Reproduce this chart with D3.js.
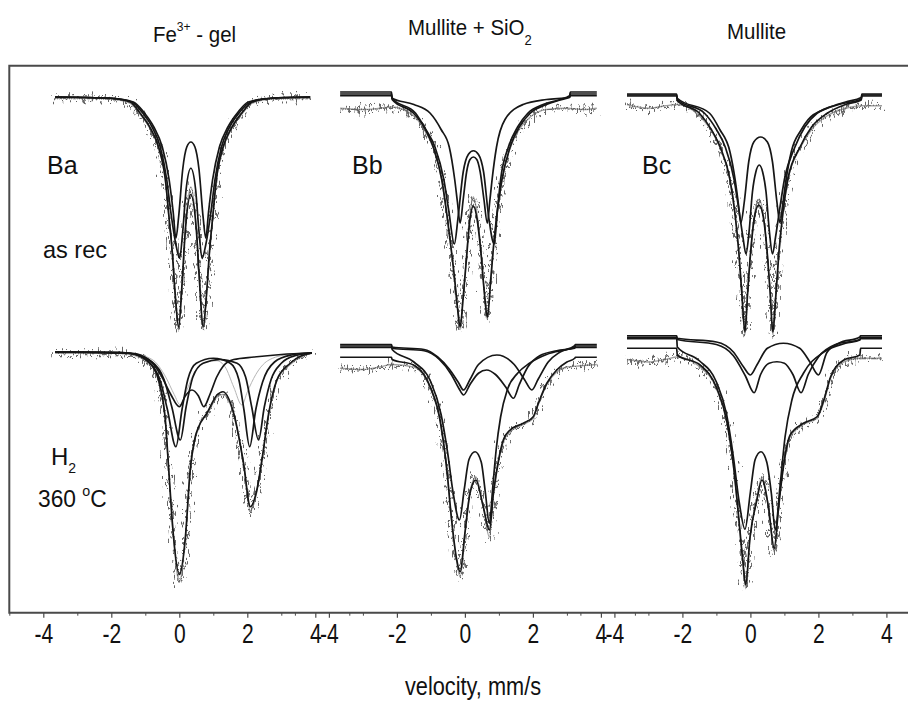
<!DOCTYPE html>
<html>
<head>
<meta charset="utf-8">
<script src="https://cdn.jsdelivr.net/npm/d3@7"></script>
<style>
  body { margin: 0; background: #fff; }
  svg text { font-family: "Liberation Sans", Arial, sans-serif; fill: #111; }
</style>
</head>
<body>
<div id="chart"></div>
<script>
// velocity axis (mm/s), one per column
const velTicks = [-4, -2, 0, 2, 4];
const velMinor = [-5, -3, -1, 1, 3, 5];
const velDomain = [-5, 5];

// absorption in arbitrary units (0 = baseline), [velocity, absorption]
// --- Ba : Fe3+ gel, as received
const baData = [[-3.65,0.05],[-2.5,0.05],[-2.0,0.08],[-1.45,0.25],[-1.15,0.7],[-0.85,1.3],[-0.61,2.05],[-0.41,3.35],[-0.31,4.75],[-0.21,6.2],[-0.12,7.95],[-0.02,9.3],[0.08,7.5],[0.18,5.2],[0.34,3.6],[0.50,5.2],[0.60,7.5],[0.70,9.3],[0.80,7.95],[0.89,6.2],[0.99,4.75],[1.09,3.35],[1.29,2.05],[1.53,1.3],[1.83,0.7],[2.15,0.25],[2.7,0.08],[3.3,0.05],[3.85,0.05]];
const baFit = [[-3.65,0],[-2.0,0.05],[-1.45,0.2],[-1.15,0.65],[-0.85,1.25],[-0.61,2.0],[-0.41,3.3],[-0.31,4.7],[-0.21,6.15],[-0.12,7.9],[-0.02,9.2],[0.08,7.5],[0.18,5.3],[0.34,3.9],[0.50,5.3],[0.60,7.5],[0.70,9.2],[0.80,7.9],[0.89,6.15],[0.99,4.7],[1.09,3.3],[1.29,2.0],[1.53,1.25],[1.83,0.65],[2.15,0.2],[2.7,0.05],[3.85,0]];
const baDoublet1 = [[-3.65,0],[-2.0,0.05],[-1.4,0.2],[-1.1,0.6],[-0.8,1.2],[-0.56,2.0],[-0.37,3.3],[-0.25,4.6],[-0.1,5.9],[0.01,6.45],[0.1,5.4],[0.2,3.7],[0.34,2.85],[0.48,3.7],[0.58,5.4],[0.67,6.45],[0.78,5.9],[0.93,4.6],[1.05,3.3],[1.24,2.0],[1.48,1.2],[1.78,0.6],[2.1,0.2],[2.7,0.05],[3.85,0]];
const baDoublet2 = [[-3.65,0],[-2.0,0.05],[-1.35,0.2],[-1.05,0.6],[-0.75,1.2],[-0.5,2.0],[-0.3,3.3],[-0.18,4.6],[-0.10,5.65],[-0.02,4.8],[0.1,2.9],[0.22,2.0],[0.34,1.8],[0.46,2.0],[0.58,2.9],[0.70,4.8],[0.78,5.65],[0.86,4.6],[0.98,3.3],[1.18,2.0],[1.43,1.2],[1.73,0.6],[2.03,0.2],[2.7,0.05],[3.85,0]];

// --- Bb : mullite + SiO2, as received
const bbData = [[-3.67,0.45],[-3.0,0.5],[-2.5,0.45],[-2.15,0.4],[-1.51,0.75],[-1.2,1.3],[-0.93,2.05],[-0.68,3.35],[-0.53,4.75],[-0.41,6.05],[-0.30,7.35],[-0.22,8.45],[-0.14,9.3],[-0.05,8.0],[0.05,6.3],[0.14,4.8],[0.25,4.0],[0.36,4.7],[0.47,6.1],[0.57,7.8],[0.66,8.9],[0.76,7.35],[0.84,6.05],[0.94,4.75],[1.09,3.35],[1.33,2.05],[1.6,1.3],[1.92,0.8],[2.4,0.5],[3.0,0.45],[3.5,0.5],[3.88,0.45]];
const bbFit = [[-3.67,-0.12],[-2.16,-0.12],[-2.14,0.1],[-1.51,0.65],[-1.2,1.2],[-0.93,2.0],[-0.68,3.3],[-0.53,4.7],[-0.41,6.0],[-0.30,7.3],[-0.22,8.4],[-0.14,9.2],[-0.05,8.0],[0.05,6.4],[0.14,5.0],[0.25,4.36],[0.36,4.9],[0.47,6.2],[0.57,7.8],[0.66,8.8],[0.76,7.3],[0.84,6.0],[0.94,4.7],[1.09,3.3],[1.33,2.0],[1.6,1.2],[1.92,0.65],[2.4,0.3],[2.8,0.12],[3.08,0.0],[3.10,-0.12],[3.88,-0.12]];
const bbDoublet1 = [[-3.67,-0.2],[-2.16,-0.2],[-2.14,0.05],[-1.45,0.65],[-1.15,1.3],[-0.88,2.0],[-0.62,3.3],[-0.48,4.5],[-0.31,5.88],[-0.2,4.8],[-0.05,3.0],[0.1,2.3],[0.25,2.15],[0.4,2.3],[0.55,3.0],[0.7,4.8],[0.86,5.88],[0.96,4.5],[1.05,3.3],[1.28,2.0],[1.55,1.2],[1.85,0.65],[2.3,0.3],[2.8,0.1],[3.08,-0.05],[3.10,-0.2],[3.88,-0.2]];
const bbDoublet2 = [[-3.67,-0.05],[-2.16,-0.05],[-2.14,0.05],[-1.5,0.3],[-1.02,0.65],[-0.7,1.3],[-0.46,2.0],[-0.30,3.3],[-0.22,4.2],[-0.14,5.05],[-0.05,4.1],[0.05,3.0],[0.15,2.5],[0.25,2.4],[0.35,2.5],[0.45,3.0],[0.56,4.1],[0.66,5.05],[0.73,4.2],[0.80,3.3],[0.93,2.0],[1.18,0.9],[1.71,0.3],[2.4,0.1],[3.08,0.02],[3.10,-0.05],[3.88,-0.05]];

// --- Bc : mullite, as received
const bcData = [[-3.63,0.3],[-3.0,0.45],[-2.5,0.35],[-2.15,0.3],[-1.5,0.75],[-1.15,1.35],[-0.89,2.05],[-0.6,3.35],[-0.45,4.75],[-0.34,6.25],[-0.25,7.95],[-0.16,9.5],[-0.08,7.8],[0.02,6.0],[0.12,4.7],[0.25,4.1],[0.38,4.7],[0.48,6.0],[0.58,7.8],[0.66,9.5],[0.75,7.95],[0.84,6.25],[0.95,4.75],[1.1,3.35],[1.46,2.05],[1.8,1.3],[2.26,0.75],[2.8,0.45],[3.3,0.35],[3.87,0.35]];
const bcFit = [[-3.63,-0.04],[-2.17,-0.04],[-2.15,0.15],[-1.5,0.65],[-1.15,1.3],[-0.89,2.0],[-0.6,3.3],[-0.45,4.7],[-0.34,6.2],[-0.25,7.9],[-0.16,9.4],[-0.08,7.8],[0.02,6.0],[0.12,4.8],[0.25,4.32],[0.38,4.8],[0.48,6.0],[0.58,7.8],[0.66,9.4],[0.75,7.9],[0.84,6.2],[0.95,4.7],[1.1,3.3],[1.46,2.0],[1.8,1.2],[2.26,0.65],[2.8,0.3],[3.26,0.12],[3.28,-0.04],[3.87,-0.04]];
const bcDoublet1 = [[-3.63,-0.12],[-2.17,-0.12],[-2.15,0.05],[-1.2,0.65],[-0.9,1.3],[-0.6,2.2],[-0.45,3.3],[-0.36,4.2],[-0.28,5.03],[-0.18,4.2],[-0.05,2.6],[0.1,1.8],[0.30,1.6],[0.5,1.8],[0.65,2.6],[0.78,4.2],[0.87,5.03],[0.96,4.2],[1.05,3.3],[1.2,2.2],[1.5,1.3],[1.7,0.9],[2.26,0.45],[2.8,0.2],[3.26,0.02],[3.28,-0.12],[3.87,-0.12]];
const bcDoublet2 = [[-3.63,-0.08],[-2.17,-0.08],[-2.15,0.1],[-1.35,0.65],[-1.0,1.3],[-0.74,2.0],[-0.48,3.3],[-0.34,4.5],[-0.22,5.6],[-0.13,6.28],[-0.04,5.4],[0.06,3.8],[0.16,3.0],[0.26,2.72],[0.36,3.0],[0.46,3.8],[0.56,5.4],[0.65,6.28],[0.74,5.6],[0.86,4.5],[1.0,3.3],[1.31,2.0],[1.6,1.2],[1.96,0.65],[2.6,0.3],[3.26,0.08],[3.28,-0.08],[3.87,-0.08]];

// --- Ha : Fe3+ gel, H2 360 C
const haData = [[-3.65,0.05],[-2.0,0.05],[-1.44,0.1],[-0.85,0.5],[-0.56,1.45],[-0.41,2.8],[-0.31,4.8],[-0.17,7.45],[0.0,9.2],[0.18,7.45],[0.32,4.8],[0.47,3.45],[0.57,3.05],[0.65,2.7],[0.81,2.5],[1.11,1.8],[1.28,1.7],[1.6,2.5],[1.89,4.5],[2.09,6.35],[2.28,5.6],[2.43,4.35],[2.63,2.5],[2.87,1.15],[3.26,0.5],[3.9,0.05]];
const haFit = [[-3.65,0],[-2.0,0.0],[-1.44,0.05],[-0.85,0.45],[-0.56,1.39],[-0.41,2.72],[-0.31,4.72],[-0.17,7.39],[0.0,8.9],[0.18,7.39],[0.32,4.72],[0.47,3.39],[0.57,2.99],[0.81,2.45],[1.11,1.72],[1.28,1.59],[1.6,2.45],[1.89,4.45],[2.09,6.19],[2.28,5.52],[2.43,4.32],[2.63,2.45],[2.87,1.12],[3.26,0.45],[3.9,0.03]];
const haDoublet1 = [[-3.65,0],[-1.5,0.05],[-0.9,0.4],[-0.55,1.2],[-0.35,2.3],[-0.10,3.79],[0.08,2.3],[0.25,1.1],[0.5,0.45],[1.0,0.25],[1.5,0.45],[1.75,1.1],[1.9,2.3],[2.07,3.79],[2.25,2.3],[2.45,1.2],[2.8,0.4],[3.3,0.12],[3.9,0.03]];
const haDoublet2 = [[-3.65,0],[-1.5,0.05],[-0.8,0.4],[-0.45,1.1],[-0.22,2.2],[0.03,3.52],[0.2,2.2],[0.4,1.0],[0.7,0.45],[1.2,0.3],[1.7,0.45],[1.95,1.0],[2.13,2.2],[2.33,3.52],[2.5,2.2],[2.7,1.1],[3.0,0.45],[3.4,0.15],[3.9,0.05]];
const haDoublet3 = [[-3.65,0],[-1.4,0.05],[-0.9,0.3],[-0.55,0.9],[-0.25,1.7],[0.0,2.19],[0.18,1.75],[0.37,1.52],[0.56,1.75],[0.72,2.19],[0.9,1.7],[1.1,1.0],[1.3,0.55],[1.6,0.3],[2.2,0.2],[3.0,0.1],[3.9,0.03]];
const haDoublet4 = [[-3.65,0],[-1.5,0.03],[-0.8,0.3],[-0.4,1.0],[-0.15,1.7],[0.03,2.12],[0.2,1.6],[0.45,0.8],[0.8,0.4],[1.1,0.35],[1.35,0.6],[1.6,1.4],[1.84,2.12],[2.0,1.6],[2.25,0.9],[2.6,0.35],[3.2,0.1],[3.9,0.03]];

// --- Hb : mullite + SiO2, H2 360 C
const hbData = [[-3.67,0.65],[-3.0,0.7],[-2.5,0.6],[-2.15,0.5],[-1.51,0.6],[-1.02,1.45],[-0.73,2.8],[-0.53,4.8],[-0.39,6.8],[-0.24,8.4],[-0.14,9.0],[0.0,7.3],[0.15,5.6],[0.32,5.0],[0.54,6.2],[0.72,7.4],[0.84,5.7],[0.99,4.4],[1.13,3.6],[1.33,3.2],[1.72,2.9],[2.01,2.65],[2.16,2.1],[2.41,1.3],[2.7,0.8],[3.0,0.6],[3.4,0.55],[3.88,0.5]];
const hbFit = [[-3.67,0.21],[-2.16,0.21],[-2.14,0.3],[-1.51,0.52],[-1.02,1.39],[-0.73,2.72],[-0.53,4.72],[-0.39,6.72],[-0.24,8.32],[-0.14,8.79],[0.0,7.25],[0.15,5.65],[0.32,5.12],[0.54,6.19],[0.72,7.12],[0.84,5.65],[0.99,4.32],[1.13,3.52],[1.33,3.12],[1.72,2.85],[2.01,2.59],[2.16,2.05],[2.41,1.25],[2.7,0.72],[3.0,0.4],[3.23,0.25],[3.25,0.21],[3.88,0.21]];
const hbDoublet1 = [[-3.67,-0.24],[-2.16,-0.24],[-2.14,-0.1],[-1.5,0.4],[-1.0,1.2],[-0.7,2.5],[-0.5,4.1],[-0.35,5.6],[-0.16,6.72],[-0.02,5.5],[0.12,4.3],[0.30,3.99],[0.48,4.4],[0.6,5.6],[0.72,6.85],[0.82,5.4],[0.92,3.9],[1.05,2.6],[1.25,1.5],[1.55,0.85],[1.9,0.45],[2.4,0.1],[3.0,-0.1],[3.23,-0.18],[3.25,-0.24],[3.88,-0.24]];
const hbDoublet2 = [[-3.67,-0.3],[-2.16,-0.3],[-2.14,-0.2],[-1.2,-0.1],[-0.8,0.2],[-0.45,0.7],[-0.2,1.2],[-0.04,1.52],[0.15,1.1],[0.4,0.5],[0.94,0.12],[1.45,0.5],[1.75,1.1],[1.97,1.52],[2.15,1.1],[2.45,0.4],[2.8,0.0],[3.23,-0.25],[3.25,-0.3],[3.88,-0.3]];
const hbDoublet3 = [[-3.67,-0.18],[-2.16,-0.18],[-2.14,-0.15],[-1.2,-0.05],[-0.75,0.3],[-0.4,0.9],[-0.18,1.45],[-0.04,1.72],[0.15,1.3],[0.4,0.85],[0.64,0.72],[0.9,0.9],[1.2,1.4],[1.43,1.85],[1.6,1.3],[1.85,0.6],[2.2,0.15],[2.7,-0.05],[3.23,-0.15],[3.25,-0.18],[3.88,-0.18]];

// --- Hc : mullite, H2 360 C
const hcData = [[-3.63,0.3],[-3.0,0.4],[-2.5,0.3],[-2.15,0.2],[-1.48,0.6],[-0.99,1.5],[-0.69,2.85],[-0.5,4.6],[-0.35,6.6],[-0.22,8.5],[-0.14,9.45],[-0.01,7.45],[0.19,5.85],[0.34,5.0],[0.53,6.2],[0.70,8.0],[0.83,6.2],[0.97,4.65],[1.17,3.4],[1.56,2.9],[1.96,2.65],[2.16,2.0],[2.36,1.05],[2.75,0.4],[3.2,0.25],[3.87,0.25]];
const hcFit = [[-3.63,-0.15],[-2.17,-0.15],[-2.15,0.12],[-1.48,0.52],[-0.99,1.45],[-0.69,2.79],[-0.5,4.52],[-0.35,6.52],[-0.22,8.39],[-0.14,9.32],[-0.01,7.39],[0.19,5.92],[0.34,5.12],[0.53,6.19],[0.70,7.85],[0.83,6.19],[0.97,4.59],[1.17,3.32],[1.56,2.85],[1.96,2.59],[2.16,1.92],[2.36,0.99],[2.75,0.32],[3.22,0.12],[3.24,-0.15],[3.87,-0.15]];
const hcDoublet1 = [[-3.63,-0.59],[-2.17,-0.59],[-2.15,-0.2],[-1.5,0.35],[-1.0,1.2],[-0.7,2.5],[-0.5,4.2],[-0.33,6.0],[-0.16,7.09],[0.0,5.6],[0.14,4.3],[0.31,3.99],[0.48,4.4],[0.62,5.7],[0.73,7.12],[0.87,5.39],[1.02,3.39],[1.22,1.92],[1.56,0.85],[2.16,0.0],[2.8,-0.35],[3.22,-0.48],[3.24,-0.59],[3.87,-0.59]];
const hcDoublet2 = [[-3.63,-0.65],[-2.17,-0.65],[-2.15,-0.55],[-1.0,-0.4],[-0.5,0.0],[-0.2,0.6],[0.0,0.92],[0.2,0.5],[0.5,-0.15],[0.97,-0.35],[1.45,-0.15],[1.75,0.4],[2.0,0.92],[2.25,0.02],[2.6,-0.35],[3.22,-0.6],[3.24,-0.65],[3.87,-0.65]];
const hcDoublet3 = [[-3.63,-0.53],[-2.17,-0.53],[-2.15,-0.5],[-1.0,-0.3],[-0.5,0.15],[-0.15,0.95],[0.11,1.63],[0.3,0.9],[0.55,0.45],[0.78,0.39],[1.0,0.45],[1.25,0.9],[1.49,1.63],[1.7,0.9],[2.0,0.2],[2.5,-0.3],[3.22,-0.5],[3.24,-0.53],[3.87,-0.53]];

const columnTitles = ["Fe", "Mullite + SiO", "Mullite"];
const panelLabels = ["Ba", "Bb", "Bc"];

// panel table built from the arrays above
const panels = [
  { col: 0, row: 0, data: baData, fits: [baFit, baDoublet1, baDoublet2], faint: [] },
  { col: 1, row: 0, data: bbData, fits: [bbFit, bbDoublet1, bbDoublet2], faint: [] },
  { col: 2, row: 0, data: bcData, fits: [bcFit, bcDoublet1, bcDoublet2], faint: [] },
  { col: 0, row: 1, data: haData, fits: [haFit, haDoublet1, haDoublet2, haDoublet3], faint: [haDoublet4] },
  { col: 1, row: 1, data: hbData, fits: [hbFit, hbDoublet1, hbDoublet2, hbDoublet3], faint: [] },
  { col: 2, row: 1, data: hcData, fits: [hcFit, hcDoublet1, hcDoublet2, hcDoublet3], faint: [] }
];

/** LAYOUT */
const width = 908, height = 701;
const frame = { left: 9.3, top: 65.7, bottom: 612.7 };
const colStart = [9.3, 294.9, 580.4];
const colWidth = 340;
const rowRange = [[97, 347], [352, 602]];

const svg = d3.select("#chart").append("svg")
  .attr("width", width)
  .attr("height", height);

// noise texture for the measured spectra
const defs = svg.append("defs");
const filt = defs.append("filter").attr("id", "noisy")
  .attr("x", "-5%").attr("y", "-10%").attr("width", "110%").attr("height", "120%");
filt.append("feTurbulence").attr("type", "fractalNoise")
  .attr("baseFrequency", "0.5 0.1").attr("numOctaves", 2).attr("seed", 7).attr("result", "t");
filt.append("feDisplacementMap").attr("in", "SourceGraphic").attr("in2", "t")
  .attr("scale", 22).attr("xChannelSelector", "A").attr("yChannelSelector", "R");

const xScales = colStart.map(x0 => d3.scaleLinear().domain(velDomain).range([x0, x0 + colWidth]));
const yScales = rowRange.map(r => d3.scaleLinear().domain([0, 10]).range(r));

// text squeezed horizontally (the source uses a narrow face)
function addText(x, y, size, sx, anchor) {
  return svg.append("g")
    .attr("transform", `translate(${x},${y}) scale(${sx},1)`)
    .append("text")
    .attr("font-size", size)
    .attr("text-anchor", anchor || "start");
}

// frame
svg.append("path")
  .attr("d", `M${width},${frame.top}H${frame.left}V${frame.bottom}H${width}`)
  .attr("fill", "none").attr("stroke", "#4a4a4a").attr("stroke-width", 2);

// spectra
panels.forEach(p => {
  const x = xScales[p.col], y = yScales[p.row];
  const line = d3.line().x(d => x(d[0])).y(d => y(d[1])).curve(d3.curveMonotoneX);
  const g = svg.append("g");

  g.append("path").attr("d", line(p.data))
    .attr("fill", "none").attr("stroke", "#a0a0a0").attr("stroke-width", 1.3);
  g.append("path").attr("d", line(p.data))
    .attr("fill", "none").attr("stroke", "#666").attr("stroke-width", 2)
    .attr("filter", "url(#noisy)");

  p.faint.forEach(c => g.append("path").attr("d", line(c))
    .attr("fill", "none").attr("stroke", "#b5b5b5").attr("stroke-width", 1));

  p.fits.forEach(c => g.append("path").attr("d", line(c))
    .attr("fill", "none").attr("stroke", "#161616").attr("stroke-width", 1.7));
});

// velocity axes
xScales.forEach(x => {
  const gMinor = svg.append("g")
    .attr("transform", `translate(0,${frame.bottom})`)
    .call(d3.axisBottom(x).tickValues(velMinor).tickSize(3).tickFormat(""));
  gMinor.select(".domain").remove();
  gMinor.selectAll("line").attr("stroke", "#4a4a4a");

  const gMajor = svg.append("g")
    .attr("transform", `translate(0,${frame.bottom})`)
    .call(d3.axisBottom(x).tickValues(velTicks).tickSize(5).tickPadding(6).tickFormat(d => String(d)));
  gMajor.select(".domain").remove();
  gMajor.selectAll("line").attr("stroke", "#4a4a4a").attr("stroke-width", 1.2);
  gMajor.selectAll("text").attr("font-size", 27).attr("fill", "#111")
    .attr("transform", "scale(0.78,1)")
    .style("font-family", '"Liberation Sans", Arial, sans-serif');
});

addText(473, 695, 25, 0.87, "middle").text("velocity, mm/s");

// column titles
const t0 = addText(153, 42, 22, 0.93);
t0.append("tspan").text(columnTitles[0]);
t0.append("tspan").attr("font-size", 13).attr("dy", -11).text("3+");
t0.append("tspan").attr("dy", 11).text(" - gel");

const t1 = addText(408, 34.5, 22, 0.93);
t1.append("tspan").text(columnTitles[1]);
t1.append("tspan").attr("font-size", 14).attr("dy", 10).text("2");

addText(727, 38.5, 22, 0.93).text(columnTitles[2]);

// panel labels
const labelX = [47, 352, 642];
panelLabels.forEach((s, i) => addText(labelX[i], 174, 25, 1).text(s));
addText(43, 258, 24, 0.98).text("as rec");

const h2 = addText(51, 465, 24, 1);
h2.append("tspan").text("H");
h2.append("tspan").attr("font-size", 14).attr("dy", 8).text("2");

const temp = addText(38, 507, 24, 0.95);
temp.append("tspan").text("360 ");
temp.append("tspan").attr("font-size", 15).attr("dy", -11).text("o");
temp.append("tspan").attr("dy", 11).text("C");
</script>
</body>
</html>
